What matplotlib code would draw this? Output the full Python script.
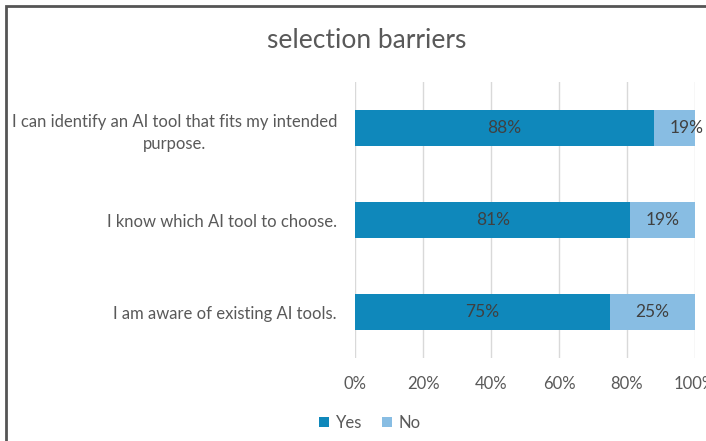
import matplotlib.pyplot as plt
from matplotlib.patches import Rectangle
from matplotlib.ticker import PercentFormatter

plt.rcParams['font.family'] = ['Lato', 'DejaVu Sans']

# survey statements, bottom to top
statements = ['I am aware of existing AI tools.',
              'I know which AI tool to choose.',
              'I can identify an AI tool that fits my intended\npurpose.']
yes = [75, 81, 88]
no = [25, 19, 19]

yes_color = '#0f88bb'
no_color = '#88bde3'
text_gray = '#595959'

fig = plt.figure(figsize=(7.06, 4.41), dpi=100)
ax = fig.add_axes([355 / 706, 1 - 358 / 441, 340 / 706, 276 / 441])

pos = range(len(statements))
b1 = ax.barh(pos, yes, height=0.39, color=yes_color, label='Yes', zorder=2)
b2 = ax.barh(pos, no, left=yes, height=0.39, color=no_color, label='No', zorder=2)

for bars, vals, lefts in [(b1, yes, [0] * 3), (b2, no, yes)]:
    for bar, v, l in zip(bars, vals, lefts):
        ax.text(l + v / 2, bar.get_y() + bar.get_height() / 2, f'{v}%',
                ha='center', va='center', fontsize=12.5, color='#404040',
                zorder=3, clip_on=False)

ax.set_xlim(0, 100)
ax.set_ylim(-0.5, 2.5)
ax.xaxis.set_major_formatter(PercentFormatter(decimals=0))
ax.set_xticks(range(0, 101, 20))
ax.xaxis.grid(True, color='#d9d9d9', linewidth=1, zorder=0)
for s in ax.spines.values():
    s.set_visible(False)
ax.tick_params(length=0, labelsize=12, labelcolor=text_gray, pad=13)
ax.set_yticks(list(pos))
ax.set_yticklabels(statements, fontsize=12, color=text_gray,
                   multialignment='center', linespacing=1.5)
ax.tick_params(axis='y', pad=13)

fig.text(367 / 706, 1 - 40 / 441, 'selection barriers', ha='center',
         va='center', fontsize=19, color=text_gray)

fig.legend(handles=[b1, b2], loc='center', bbox_to_anchor=(370 / 706, 1 - 423 / 441),
           ncol=2, frameon=False, fontsize=12, labelcolor=text_gray,
           handlelength=0.6, handleheight=0.6, handletextpad=0.4,
           columnspacing=1.2)

# chart frame
fig.patches.append(Rectangle((6 / 706, -0.1), 1.2, 1 - 6 / 441 + 0.1,
                             transform=fig.transFigure, fill=False,
                             edgecolor='#555555', linewidth=2))

fig.savefig('out.png', dpi=100)
